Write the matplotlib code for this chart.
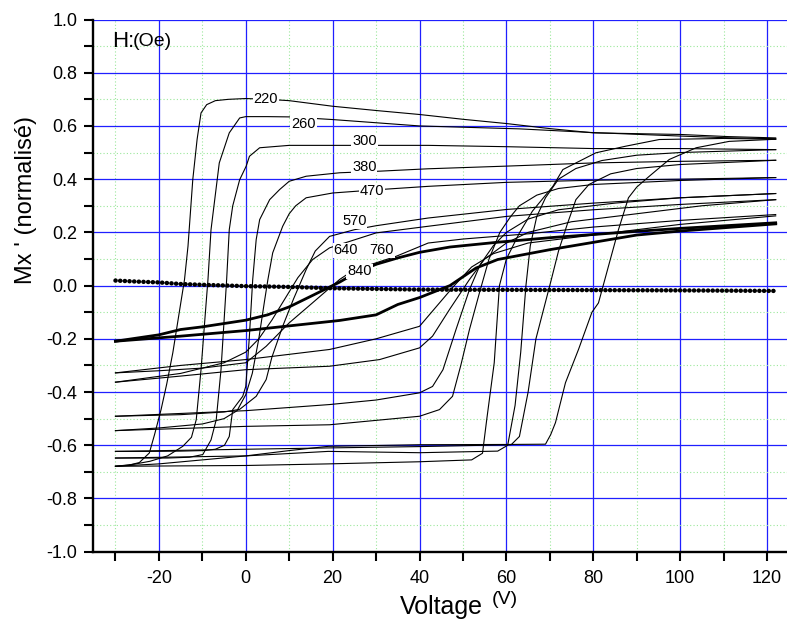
import matplotlib
matplotlib.use("Agg")
import matplotlib.pyplot as plt
from matplotlib.ticker import MultipleLocator

plt.rcParams['font.family'] = ['Liberation Sans', 'DejaVu Sans']

# ---------------- data (Voltage V, Mx' normalised) ----------------
# H = 220 Oe
V_UP_220 = [122, 111, 100, 90, 80, 70, 60, 50, 40, 30, 20, 10, 5, 0, -4, -7, -9, -10.3, -11.2, -12.2, -13.3, -14.1,
            -15.5, -16.8, -18.2, -19.5, -21, -22.2, -24.5, -27, -30]
M_UP_220 = [0.555, 0.56, 0.568, 0.571, 0.574, 0.59, 0.609, 0.625, 0.643, 0.658, 0.674, 0.695, 0.70, 0.703, 0.70,
            0.695, 0.68, 0.649, 0.55, 0.398, 0.148, 0.023, -0.12, -0.253, -0.37, -0.466, -0.56, -0.629, -0.665,
            -0.675, -0.679]
V_LO_220 = [-30, -20, -10, 0, 10, 19, 40, 60, 69, 70.2, 71.3, 73.6, 76.6, 79.7, 81.2, 83.5, 85.8, 88.1, 90, 92.9,
            97.5, 103.7, 111.3, 122]
M_LO_220 = [-0.679, -0.67, -0.655, -0.64, -0.62, -0.604, -0.598, -0.597, -0.596, -0.56, -0.515, -0.365, -0.24,
            -0.10, -0.065, 0.073, 0.21, 0.33, 0.37, 0.411, 0.474, 0.518, 0.542, 0.55]
# H = 260 Oe
V_UP_260 = [122, 110, 100, 80, 63, 40, 30, 20, 10, 5, 0, -1.4, -3.8, -6.1, -8, -8.7, -9.1, -10.3, -11.4, -12.5,
            -14.5, -18, -22, -26, -30]
M_UP_260 = [0.552, 0.556, 0.562, 0.575, 0.589, 0.60, 0.612, 0.624, 0.634, 0.635, 0.635, 0.63, 0.574, 0.461, 0.21,
            0.023, -0.06, -0.316, -0.504, -0.57, -0.604, -0.64, -0.66, -0.672, -0.679]
V_LO_260 = [-30, 0, 19, 40, 52, 54.5, 55.5, 57.2, 58.4, 60, 63, 66, 70.7, 73, 80.6, 87.5, 95.2, 110, 122]
M_LO_260 = [-0.679, -0.676, -0.67, -0.662, -0.655, -0.63, -0.5, -0.29, 0.0, 0.1, 0.198, 0.28, 0.373, 0.436, 0.499,
            0.524, 0.549, 0.553, 0.55]
# H = 300 Oe
V_UP_300 = [122, 100, 80, 60, 42, 30, 20, 10, 3.2, 0.85, 0.1, -1.4, -3, -3.8, -4.4, -5.7, -6.8, -8, -9.9, -13,
            -18, -24, -30]
M_UP_300 = [0.511, 0.515, 0.515, 0.522, 0.527, 0.527, 0.527, 0.527, 0.518, 0.486, 0.449, 0.398, 0.3, 0.21, 0.023,
            -0.316, -0.504, -0.58, -0.635, -0.645, -0.648, -0.648, -0.648]
V_LO_300 = [-30, 0, 19, 40, 58, 60.3, 62, 63.3, 64.5, 65.5, 67, 69, 72, 76, 82, 90, 100, 110, 122]
M_LO_300 = [-0.648, -0.64, -0.623, -0.628, -0.622, -0.6, -0.45, -0.25, 0.0, 0.15, 0.26, 0.33, 0.40, 0.44, 0.47,
            0.49, 0.50, 0.505, 0.511]
# H = 380 Oe
V_UP_380 = [122, 100, 80, 60, 42, 30.8, 21.6, 13.9, 10, 7.8, 5.5, 3.2, 2.4, 1.6, 0.8, 0, -0.7, -3, -3.8, -4.9,
            -7, -9.9, -15, -22, -30]
M_UP_380 = [0.471, 0.467, 0.461, 0.449, 0.439, 0.43, 0.424, 0.411, 0.392, 0.361, 0.323, 0.248, 0.173, 0.023,
            -0.2, -0.379, -0.416, -0.466, -0.567, -0.6, -0.615, -0.62, -0.622, -0.623, -0.623]
V_LO_380 = [-30, 0, 19, 40, 55, 61.1, 63, 65, 66.8, 70.3, 72, 74, 76, 79, 84, 90, 100, 122]
M_LO_380 = [-0.623, -0.615, -0.61, -0.605, -0.6, -0.598, -0.567, -0.4, -0.2, 0.02, 0.13, 0.23, 0.323, 0.38, 0.42,
            0.44, 0.455, 0.471]
# H = 470 Oe
V_UP_470 = [122, 100, 80, 60, 42, 30, 20, 13.9, 11.5, 10, 8.5, 6.2, 5.1, 4.3, 3, 1.5, 0, -2, -5, -10, -20, -30]
M_UP_470 = [0.406, 0.40, 0.396, 0.388, 0.373, 0.36, 0.348, 0.33, 0.30, 0.27, 0.223, 0.123, 0.023, -0.06, -0.2,
            -0.33, -0.41, -0.47, -0.50, -0.52, -0.535, -0.545]
V_LO_470 = [-30, 0, 19.3, 40, 44.6, 47.6, 49.5, 51.5, 53.8, 56, 58.5, 61, 63, 67, 72, 80, 100, 122]
M_LO_470 = [-0.545, -0.529, -0.523, -0.491, -0.466, -0.416, -0.3, -0.165, -0.027, 0.1, 0.2, 0.26, 0.3, 0.34, 0.365,
            0.38, 0.395, 0.406]
# H = 570 Oe
V_UP_570 = [122, 100, 80, 60, 42, 30, 25, 19.3, 16, 13.9, 11, 8.5, 6, 4.7, 2.4, -1.4, -5, -15, -30]
M_UP_570 = [0.346, 0.33, 0.31, 0.286, 0.254, 0.225, 0.21, 0.185, 0.13, 0.06, -0.05, -0.153, -0.27, -0.353, -0.416,
            -0.465, -0.475, -0.485, -0.491]
V_LO_570 = [-30, 0, 19.3, 30, 40, 43, 45.4, 48.4, 51.5, 54, 57, 60, 65, 72, 85, 100, 122]
M_LO_570 = [-0.491, -0.47, -0.447, -0.43, -0.403, -0.379, -0.316, -0.165, -0.015, 0.08, 0.15, 0.2, 0.25, 0.285,
            0.31, 0.33, 0.346]
# H = 640 Oe
V_UP_640 = [122, 100, 80, 60, 42, 30, 19.3, 15.4, 12, 9, 6, 3, 0, -5, -15, -30]
M_UP_640 = [0.323, 0.305, 0.285, 0.26, 0.223, 0.198, 0.142, 0.098, 0.03, -0.05, -0.13, -0.2, -0.25, -0.29, -0.33,
            -0.363]
V_LO_640 = [-30, -15, 0, 19.3, 30.8, 40, 43, 46.9, 51.5, 55, 60, 65, 75, 90, 105, 122]
M_LO_640 = [-0.363, -0.34, -0.316, -0.303, -0.278, -0.234, -0.19, -0.09, 0.023, 0.1, 0.16, 0.2, 0.24, 0.27, 0.3,
            0.323]
# H = 760 Oe
V_UP_760 = [122, 100, 80, 65.3, 50, 42, 34.6, 28, 23.9, 21.6, 15, 10, 4.7, 0, -10, -20, -30]
M_UP_760 = [0.267, 0.245, 0.22, 0.195, 0.175, 0.16, 0.11, 0.075, 0.048, 0.023, -0.07, -0.14, -0.228, -0.29,
            -0.31, -0.32, -0.328]
V_LO_760 = [-30, -15, 0, 19.3, 30, 40, 44.6, 48, 52, 57, 65, 80, 100, 122]
M_LO_760 = [-0.328, -0.3, -0.278, -0.24, -0.2, -0.153, -0.065, 0.0, 0.07, 0.12, 0.16, 0.19, 0.23, 0.262]
# H = 840 Oe (thick)
V_UP_840 = [122, 100, 90, 70, 58, 47, 40, 35, 30, 25, 21.6, 15, 10, 5, 0, -10, -15, -20, -30]
M_UP_840 = [0.236, 0.215, 0.204, 0.18, 0.163, 0.145, 0.125, 0.104, 0.08, 0.045, 0.013, -0.04, -0.08, -0.11, -0.13,
            -0.155, -0.165, -0.185, -0.209]
V_LO_840 = [-30, -15, 0, 21.6, 30, 35, 40, 47, 53, 58, 70, 90, 100, 122]
M_LO_840 = [-0.209, -0.19, -0.169, -0.131, -0.11, -0.071, -0.045, 0.0, 0.066, 0.098, 0.135, 0.19, 0.205, 0.232]

# reference (dotted) curve near zero
V_REF = [-30, -25, -20, -15, -10, 0, 10, 20, 40, 60, 80, 100, 122]
M_REF = [0.019, 0.015, 0.012, 0.006, 0.003, -0.002, -0.005, -0.01, -0.015, -0.016, -0.017, -0.018, -0.02]

FIELDS = ['220', '260', '300', '380', '470', '570', '640', '760', '840']
LABEL_V = [4.6, 13.3, 27.3, 27.3, 29.0, 25.0, 23.0, 31.3, 26.2]
LABEL_M = [0.703, 0.609, 0.545, 0.444, 0.357, 0.244, 0.132, 0.132, 0.053]

X_MAJOR = [-20, 0, 20, 40, 60, 80, 100, 120]
Y_MAJOR = [-1.0, -0.8, -0.6, -0.4, -0.2, 0.0, 0.2, 0.4, 0.6, 0.8, 1.0]

# ---------------- figure ----------------
W, H = 787, 631
fig = plt.figure(figsize=(W / 100, H / 100), dpi=100)
left, right, top, bottom = 93.3, 787, 19.5, 551.7
ax = fig.add_axes([left / W, 1 - bottom / H, (right - left) / W, (bottom - top) / H])

ax.set_xlim(-35.1, 124.6)
ax.set_ylim(-1.0, 1.0)

ax.xaxis.set_minor_locator(MultipleLocator(10))
ax.yaxis.set_minor_locator(MultipleLocator(0.1))
ax.set_xticks(X_MAJOR)
ax.set_xticklabels([f"{v:d}" for v in X_MAJOR])
ax.set_yticks(Y_MAJOR)
ax.set_yticklabels([f"{v:.1f}" for v in Y_MAJOR])

ax.grid(True, which='minor', color='#9be89b', linestyle=(0, (1, 2)), linewidth=0.8, zorder=0)
ax.grid(True, which='major', color='#1f1fff', linestyle='-', linewidth=0.9, zorder=0.5)
ax.set_axisbelow(True)

for s in ['top', 'right']:
    ax.spines[s].set_visible(False)
for s in ['left', 'bottom']:
    ax.spines[s].set_linewidth(1.7)
    ax.spines[s].set_color('black')

ax.tick_params(which='both', direction='out', length=6.5, width=1.5, color='black')
ax.tick_params(axis='x', which='major', labelsize=13, pad=7)
ax.tick_params(axis='y', which='major', labelsize=13, pad=5)

thin = dict(color='black', linewidth=0.8, zorder=3)
branches = [
    (V_UP_220, M_UP_220), (V_LO_220, M_LO_220),
    (V_UP_260, M_UP_260), (V_LO_260, M_LO_260),
    (V_UP_300, M_UP_300), (V_LO_300, M_LO_300),
    (V_UP_380, M_UP_380), (V_LO_380, M_LO_380),
    (V_UP_470, M_UP_470), (V_LO_470, M_LO_470),
    (V_UP_570, M_UP_570), (V_LO_570, M_LO_570),
    (V_UP_640, M_UP_640), (V_LO_640, M_LO_640),
    (V_UP_760, M_UP_760), (V_LO_760, M_LO_760),
]
for vx, my in branches:
    ax.plot(vx, my, **thin)
ax.plot(V_UP_840, M_UP_840, color='black', linewidth=2.0, zorder=3)
ax.plot(V_LO_840, M_LO_840, color='black', linewidth=2.0, zorder=3)

ax.plot(V_REF, M_REF, color='black', linewidth=3.2, linestyle=(0, (0.05, 1.0)),
        dash_capstyle='round', zorder=3)

for lab, lx, ly in zip(FIELDS, LABEL_V, LABEL_M):
    ax.text(lx, ly, lab, fontsize=10.5, ha='center', va='center', zorder=5,
            bbox=dict(facecolor='white', edgecolor='none', pad=0.6))

ax.text(-30.8, 0.917, 'H:', fontsize=16, ha='left', va='center', zorder=5)
ax.text(-26.0, 0.917, '(Oe)', fontsize=14, ha='left', va='center', zorder=5)

fig.text(26 / W, 1 - 200 / H, "Mx ' (normalisé)", rotation=90, fontsize=17,
         ha='center', va='center')
fig.text(441 / W, 1 - 607 / H, 'Voltage', fontsize=18, ha='center', va='center',
         family=['Liberation Sans Narrow', 'Liberation Sans', 'DejaVu Sans'])
fig.text(505 / W, 1 - 600 / H, '(V)', fontsize=14, ha='center', va='center',
         family=['Liberation Sans Narrow', 'Liberation Sans', 'DejaVu Sans'])

fig.savefig('out.png', dpi=100)
